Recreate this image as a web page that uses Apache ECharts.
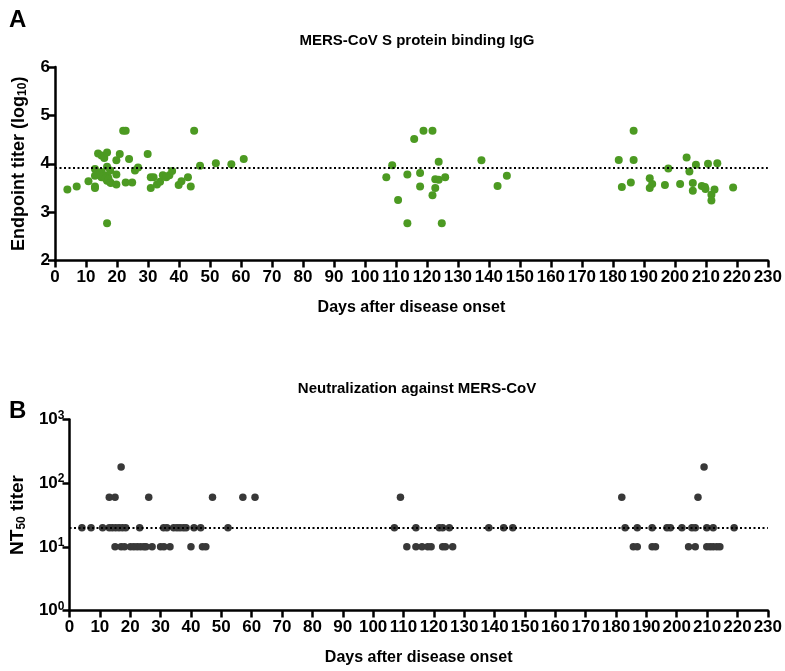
<!DOCTYPE html>
<html>
<head>
<meta charset="utf-8">
<script src="https://cdn.jsdelivr.net/npm/echarts@6/dist/echarts.min.js"></script>
<style>html,body{margin:0;padding:0;background:#fff}#c{width:785px;height:671px}</style>
</head>
<body>
<div id="c"></div>
<script>
// Panel A: MERS-CoV S protein binding IgG (log10 endpoint titer)
const aDays = [4.0,7.0,10.8,12.9,12.9,12.9,12.9,13.9,15.0,15.9,16.8,15.0,15.0,15.9,16.8,16.8,17.1,17.8,17.8,16.8,
  14.5,15.5,16.3,17.3,18.0,
  19.8,19.8,19.8,20.9,22.0,22.8,22.8,23.9,24.9,25.8,26.8,29.9,30.9,30.9,31.8,32.9,33.9,34.8,35.9,36.9,37.8,39.9,40.8,42.9,43.8,44.9,46.8,51.9,56.9,60.9,
  106.9,108.8,110.7,113.7,113.7,115.9,117.8,117.8,118.9,121.8,121.8,122.7,122.7,123.8,123.8,124.8,125.9,137.6,142.8,145.8,
  181.9,182.9,185.8,186.7,186.7,191.9,191.9,192.7,196.8,197.9,201.7,203.8,204.7,205.8,205.8,206.8,208.7,209.7,209.9,210.7,211.8,211.8,212.8,213.7,218.8];
const aVals = [3.47,3.53,3.64,3.89,3.75,3.53,3.50,4.21,4.17,4.12,4.23,3.83,3.72,3.76,3.94,3.65,3.72,3.86,3.62,2.77,
  3.80,3.74,3.70,3.68,3.60,
  4.07,3.78,3.57,4.20,4.68,4.68,3.61,4.10,3.61,3.86,3.92,4.20,3.72,3.50,3.72,3.57,3.63,3.76,3.72,3.76,3.85,3.56,3.64,3.72,3.53,4.68,3.96,4.01,3.99,4.10,
  3.72,3.97,3.25,3.78,2.77,4.51,3.81,3.53,4.68,4.68,3.35,3.68,3.50,3.67,4.04,2.77,3.72,4.07,3.54,3.75,
  4.08,3.52,3.61,4.68,4.08,3.70,3.50,3.58,3.56,3.90,3.58,4.13,3.84,3.60,3.44,3.98,3.54,3.52,3.48,4.00,3.36,3.24,3.47,4.01,3.51];
const aCutoff = 3.91;

// Panel B: NT50 titer
const bDays = [4.1,7.1,10.9,13.1,14.1,15.2,16.3,17.4,18.5,23.1,31.0,32.1,34.3,35.4,36.4,37.5,38.4,41.0,43.2,52.2,
  13.1,15.0,26.1,47.1,57.1,61.1,
  17.0,
  15.0,17.0,18.1,20.1,21.2,22.3,23.4,24.5,25.2,27.2,30.0,31.1,33.1,40.0,43.8,44.9,
  109.0,
  107.0,114.1,121.8,122.9,125.1,138.1,143.0,146.0,
  111.1,114.1,116.1,118.0,119.1,122.9,123.8,126.2,
  183.0,187.0,191.9,196.8,197.9,201.7,205.0,206.1,209.9,212.0,218.9,
  181.9,207.0,
  209.0,
  185.7,187.0,191.9,193.0,203.9,206.1,209.9,211.0,212.0,213.2,214.2];
const bVals = [20,20,20,20,20,20,20,20,20,20,20,20,20,20,20,20,20,20,20,20,
  60,60,60,60,60,60,
  180,
  10,10,10,10,10,10,10,10,10,10,10,10,10,10,10,10,
  60,
  20,20,20,20,20,20,20,20,
  10,10,10,10,10,10,10,10,
  20,20,20,20,20,20,20,20,20,20,20,
  60,60,
  180,
  10,10,10,10,10,10,10,10,10,10,10];
const bCutoff = 20;

const xTicks = {min: 0, max: 230, interval: 10};
const titleA = 'MERS-CoV S protein binding IgG';
const titleB = 'Neutralization against MERS-CoV';
const xName = 'Days after disease onset';

const FONT = '"Liberation Sans", Arial, sans-serif';
const zip = (xs, ys) => xs.map((x, i) => [x, ys[i]]);

const axisLineStyle = {lineStyle: {color: '#000', width: 2.5}};
const tickStyle = {show: true, length: 7, lineStyle: {color: '#000', width: 2.5}};
const labelStyle = {color: '#000', fontSize: 17, fontWeight: 'bold', fontFamily: FONT};

function xAxis(grid) {
  return {
    type: 'value', gridIndex: grid, min: xTicks.min, max: xTicks.max, interval: xTicks.interval,
    axisLine: axisLineStyle, axisTick: tickStyle, splitLine: {show: false},
    axisLabel: Object.assign({margin: 8}, labelStyle),
    name: xName, nameLocation: 'middle', nameGap: 39,
    nameTextStyle: {color: '#000', fontSize: 16, fontWeight: 'bold', fontFamily: FONT}
  };
}

const chart = echarts.init(document.getElementById('c'), null, {renderer: 'canvas'});
chart.setOption({
  animation: false,
  backgroundColor: '#fff',
  textStyle: {fontFamily: FONT},
  title: [
    {text: 'A', left: 4, top: 3, textStyle: {fontSize: 24, fontWeight: 'bold', color: '#000', fontFamily: FONT}},
    {text: titleA, left: 412, top: 28, textAlign: 'center', textStyle: {fontSize: 15, fontWeight: 'bold', color: '#000', fontFamily: FONT}},
    {text: 'B', left: 4, top: 394, textStyle: {fontSize: 24, fontWeight: 'bold', color: '#000', fontFamily: FONT}},
    {text: titleB, left: 412, top: 376, textAlign: 'center', textStyle: {fontSize: 15, fontWeight: 'bold', color: '#000', fontFamily: FONT}}
  ],
  grid: [
    {left: 55, top: 67, width: 715, height: 193.5},
    {left: 65, top: 419.5, width: 705, height: 191}
  ],
  xAxis: [xAxis(0), xAxis(1)],
  yAxis: [
    {
      type: 'value', gridIndex: 0, min: 2, max: 6, interval: 1,
      axisLine: Object.assign({show: true}, axisLineStyle), axisTick: tickStyle, splitLine: {show: false},
      axisLabel: Object.assign({margin: 5}, labelStyle),
      name: 'Endpoint titer (log{sub|10})', nameLocation: 'middle', nameGap: 26, nameRotate: 90,
      nameTextStyle: {color: '#000', fontSize: 18, fontWeight: 'bold', fontFamily: FONT,
        rich: {sub: {fontSize: 12, fontWeight: 'bold', color: '#000', fontFamily: FONT, padding: [8, 0, 0, 0]}}}
    },
    {
      type: 'log', gridIndex: 1, logBase: 10, min: 1, max: 1000,
      axisLine: Object.assign({show: true}, axisLineStyle), axisTick: tickStyle, splitLine: {show: false},
      minorTick: {show: false},
      axisLabel: Object.assign({margin: 5,
        formatter: v => '10{sup|' + Math.round(Math.log10(v)) + '}',
        rich: {sup: {fontSize: 12, fontWeight: 'bold', color: '#000', fontFamily: FONT, padding: [0, 0, 8, 0]}}
      }, labelStyle),
      name: 'NT{sub|50} titer', nameLocation: 'middle', nameGap: 42, nameRotate: 90,
      nameTextStyle: {color: '#000', fontSize: 19, fontWeight: 'bold', fontFamily: FONT,
        rich: {sub: {fontSize: 12, fontWeight: 'bold', color: '#000', fontFamily: FONT, padding: [8, 0, 0, 0]}}}
    }
  ],
  series: [
    {
      type: 'scatter', xAxisIndex: 0, yAxisIndex: 0, data: zip(aDays, aVals),
      symbolSize: 8, itemStyle: {color: '#4c9a22', opacity: 1}, silent: true,
      markLine: {silent: true, symbol: 'none', label: {show: false},
        lineStyle: {color: '#000', width: 2, type: [2, 2.5]}, data: [{yAxis: aCutoff}]}
    },
    {
      type: 'scatter', xAxisIndex: 1, yAxisIndex: 1, data: zip(bDays, bVals),
      symbolSize: 7.5, itemStyle: {color: '#383838', opacity: 1}, silent: true,
      markLine: {silent: true, symbol: 'none', label: {show: false},
        lineStyle: {color: '#000', width: 2, type: [2, 2.5]}, data: [{yAxis: bCutoff}]}
    }
  ]
});
</script>
</body>
</html>
